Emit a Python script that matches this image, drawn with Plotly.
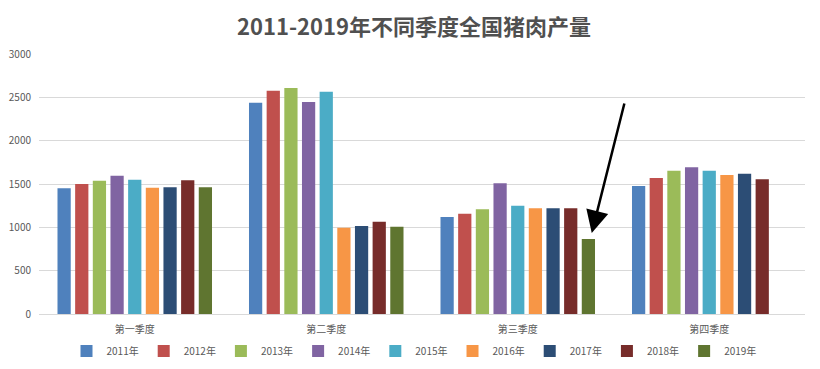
import plotly.graph_objects as go

quarters = ["第一季度", "第二季度", "第三季度", "第四季度"]
years = ["2011年", "2012年", "2013年", "2014年", "2015年", "2016年", "2017年", "2018年", "2019年"]
v2011 = [1450, 2438, 1119, 1477]
v2012 = [1500, 2577, 1158, 1569]
v2013 = [1538, 2608, 1208, 1654]
v2014 = [1596, 2446, 1508, 1692]
v2015 = [1550, 2565, 1250, 1654]
v2016 = [1458, 996, 1219, 1604]
v2017 = [1462, 1015, 1219, 1619]
v2018 = [1542, 1065, 1219, 1554]
v2019 = [1462, 1008, 865, None]
series = [v2011, v2012, v2013, v2014, v2015, v2016, v2017, v2018, v2019]
colors = ["#4F81BD", "#C0504D", "#9BBB59", "#8064A2", "#4BACC6",
          "#F79646", "#2C4D75", "#772C2A", "#5F7530"]
y_ticks = [0, 500, 1000, 1500, 2000, 2500, 3000]

FONT = "Noto Sans CJK SC"
fig = go.Figure()
for name, vals, c in zip(years, series, colors):
    fig.add_trace(go.Bar(name=name, x=quarters, y=vals, marker_color=c,
                         marker_line_width=0))

# page body has an 8px default margin, so the figure is sized 812x361
fig.update_layout(
    width=812, height=361,
    barmode="group", bargap=0.17, bargroupgap=0.25,
    paper_bgcolor="white", plot_bgcolor="white",
    margin=dict(l=31, r=15, t=46, b=55, autoexpand=False),
    font=dict(family=FONT, size=10, color="#595959"),
    title=dict(text="<b>2011-2019年不同季度全国猪肉产量</b>", x=0.5, xanchor="center",
               y=0.947, yanchor="middle", font=dict(family=FONT, size=22, color="#505050")),
    legend=dict(orientation="h", x=0.5, xanchor="center", xref="container",
                y=0.05, yanchor="middle", yref="container",
                font=dict(size=10, color="#595959"), itemwidth=30),
    showlegend=True,
)
fig.update_yaxes(range=[0, 3000], tickvals=y_ticks, showgrid=True, gridcolor="#D9D9D9",
                 gridwidth=1, zeroline=False, showline=False, ticks="", ticklabelstandoff=7,
                 automargin=False, tickfont=dict(size=10, color="#595959"))
fig.update_xaxes(showline=True, linecolor="#D9D9D9", linewidth=1, ticks="",
                 ticklabelstandoff=6, automargin=False,
                 tickfont=dict(size=10, color="#595959"))

fig.add_annotation(x="第三季度", y=v2019[2], xref="x", yref="y", xshift=74, yshift=6,
                   showarrow=True, arrowhead=2, arrowsize=1.8, arrowwidth=2.5,
                   arrowcolor="black", ax=33, ay=-131, text="")

fig.write_html("out.html")
